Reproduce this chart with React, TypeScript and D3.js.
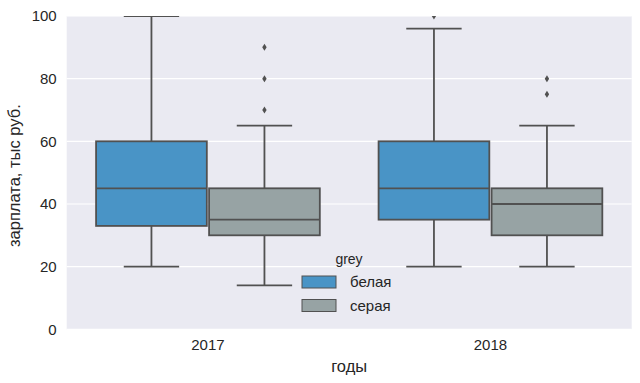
import React from "react";
import * as d3 from "d3";

const years = ["2017", "2018"];
const groups = ["белая", "серая"];
const groupColors = ["#4994c6", "#97a3a4"];
// [year][group]
const lowWhisker = [[20, 14], [20, 20]];
const q1 = [[33, 30], [35, 30]];
const median = [[45, 35], [45, 40]];
const q3 = [[60, 45], [60, 45]];
const highWhisker = [[100, 65], [96, 65]];
const outliers = [[[], [70, 80, 90]], [[100], [75, 80]]];
const yTicks = [0, 20, 40, 60, 80, 100];

const W = 640, H = 383;
const left = 66.7, right = 631.7, top = 16, bottom = 329.3;
const lineColor = "#515151";
const textColor = "#262626";
const font = "'Liberation Sans', Arial, sans-serif";

export default function App() {
  const x = d3.scaleBand().domain(years).range([left, right]).padding(0);
  const y = d3.scaleLinear().domain([0, 100]).range([bottom, top]);
  const groupWidth = x.bandwidth() * 0.8;
  const hue = d3.scaleBand().domain(groups).range([0, groupWidth]);
  const boxW = hue.bandwidth() * 0.98;

  return (
    <svg width={W} height={H} style={{ position: "absolute", left: 0, top: 0 }}>
      <defs>
        <clipPath id="plotclip">
          <rect x={left} y={top} width={right - left} height={bottom - top} />
        </clipPath>
      </defs>
      <rect x={0} y={0} width={W} height={H} fill="white" />
      <rect x={left} y={top} width={right - left} height={bottom - top} fill="#eaeaf2" />
      {yTicks.map((t) => (
        <line key={t} x1={left} x2={right} y1={y(t)} y2={y(t)} stroke="white" strokeWidth={1.2} />
      ))}
      <g clipPath="url(#plotclip)">
        {years.map((yr, i) =>
          groups.map((g, j) => {
            const cx = x(yr)! + (x.bandwidth() - groupWidth) / 2 + hue(g)! + hue.bandwidth() / 2;
            return (
              <g key={yr + g}>
                <line x1={cx} x2={cx} y1={y(q3[i][j])} y2={y(highWhisker[i][j])} stroke={lineColor} strokeWidth={1.8} />
                <line x1={cx} x2={cx} y1={y(q1[i][j])} y2={y(lowWhisker[i][j])} stroke={lineColor} strokeWidth={1.8} />
                <line x1={cx - boxW / 4} x2={cx + boxW / 4} y1={y(highWhisker[i][j])} y2={y(highWhisker[i][j])} stroke={lineColor} strokeWidth={1.8} />
                <line x1={cx - boxW / 4} x2={cx + boxW / 4} y1={y(lowWhisker[i][j])} y2={y(lowWhisker[i][j])} stroke={lineColor} strokeWidth={1.8} />
                <rect x={cx - boxW / 2} y={y(q3[i][j])} width={boxW} height={y(q1[i][j]) - y(q3[i][j])} fill={groupColors[j]} stroke={lineColor} strokeWidth={1.8} />
                <line x1={cx - boxW / 2} x2={cx + boxW / 2} y1={y(median[i][j])} y2={y(median[i][j])} stroke={lineColor} strokeWidth={1.8} />
                {outliers[i][j].map((o, k) => (
                  <path key={k} d={`M${cx},${y(o) - 3.5} L${cx + 2.2},${y(o)} L${cx},${y(o) + 3.5} L${cx - 2.2},${y(o)} Z`} fill={lineColor} />
                ))}
              </g>
            );
          })
        )}
      </g>
      {yTicks.map((t) => (
        <text key={t} x={left - 10} y={y(t)} dy="0.36em" textAnchor="end" fontFamily={font} fontSize={15} fill={textColor}>{t}</text>
      ))}
      {years.map((yr) => (
        <text key={yr} x={x(yr)! + x.bandwidth() / 2} y={350} textAnchor="middle" fontFamily={font} fontSize={15} fill={textColor}>{yr}</text>
      ))}
      <text x={(left + right) / 2} y={372} textAnchor="middle" fontFamily={font} fontSize={16.5} fill={textColor}>годы</text>
      <text transform={`translate(19.5,${(top + bottom) / 2 + 3}) rotate(-90)`} textAnchor="middle" fontFamily={font} fontSize={16.5} fill={textColor}>зарплата, тыс руб.</text>
      <g>
        <text x={349} y={264} textAnchor="middle" fontFamily={font} fontSize={14} fill={textColor}>grey</text>
        {groups.map((g, j) => (
          <g key={g} transform={`translate(302,${276 + j * 23.5})`}>
            <rect x={0} y={0} width={34} height={12} fill={groupColors[j]} stroke={lineColor} strokeWidth={1} />
            <text x={48} y={11} fontFamily={font} fontSize={15} fill={textColor}>{g}</text>
          </g>
        ))}
      </g>
    </svg>
  );
}
